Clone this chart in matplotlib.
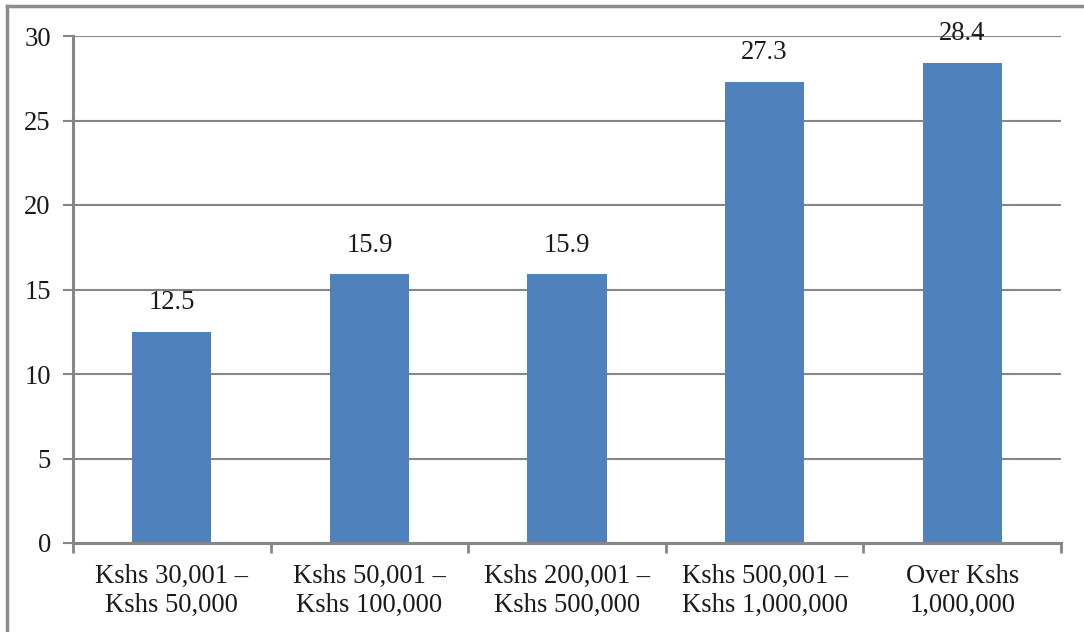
import matplotlib
matplotlib.use("Agg")
import matplotlib.pyplot as plt
from matplotlib.lines import Line2D

categories = [
    "Kshs 30,001 \u2013\nKshs 50,000",
    "Kshs 50,001 \u2013\nKshs 100,000",
    "Kshs 200,001 \u2013\nKshs 500,000",
    "Kshs 500,001 \u2013\nKshs 1,000,000",
    "Over Kshs\n1,000,000",
]
values = [12.5, 15.9, 15.9, 27.3, 28.4]
yticks = [0, 5, 10, 15, 20, 25, 30]

plt.rcParams["font.family"] = ["Liberation Serif", "DejaVu Serif"]

W, H, DPI = 1084, 632, 100
fig = plt.figure(figsize=(W / DPI, H / DPI), dpi=DPI)
fig.patch.set_facecolor("white")

# axes placement in pixels
left, right, top, bottom = 73, 1061, 36, 543
ax = fig.add_axes([left / W, 1 - bottom / H, (right - left) / W, (bottom - top) / H])

grey = "#868686"
fs = 19.2
x = list(range(len(values)))
ax.bar(x, values, width=0.4, color="#4F81BD", zorder=3)

for xi, v in zip(x, values):
    ax.annotate(f"{v:.1f}", (xi, v), xytext=(0, 12), textcoords="offset points",
                ha="center", va="bottom", fontsize=fs, color="#1a1a1a", zorder=4)

ax.set_xlim(-0.5, len(values) - 0.5)
ax.set_ylim(0, 30)
ax.set_yticks(yticks)
ax.set_yticklabels([str(t) for t in yticks], fontsize=fs, color="#1a1a1a")
ax.yaxis.grid(True, color=grey, linewidth=1.5, zorder=0)
ax.set_axisbelow(True)

ax.set_xticks(x)
ax.set_xticklabels(categories, fontsize=fs, color="#1a1a1a", linespacing=1.2)
ax.tick_params(axis="x", length=0, pad=15)
ax.set_xticks([i - 0.5 for i in range(len(values) + 1)], minor=True)
ax.tick_params(axis="x", which="minor", length=7, width=2, color=grey, direction="out")
ax.tick_params(axis="y", length=7, width=1.5, color=grey, direction="out", pad=9)

for side in ("top", "right"):
    ax.spines[side].set_visible(False)
for side in ("left", "bottom"):
    ax.spines[side].set_color(grey)
    ax.spines[side].set_linewidth(2.2)
    ax.spines[side].set_zorder(5)

# outer frame (left and top edges)
fig.add_artist(Line2D([7 / W, 7 / W], [0, 1 - 6 / H], transform=fig.transFigure,
                      color="#8c8c8c", linewidth=2.5))
fig.add_artist(Line2D([7 / W, 1], [1 - 6 / H, 1 - 6 / H], transform=fig.transFigure,
                      color="#8c8c8c", linewidth=2.5))

fig.savefig("out.png", dpi=DPI, facecolor="white")
